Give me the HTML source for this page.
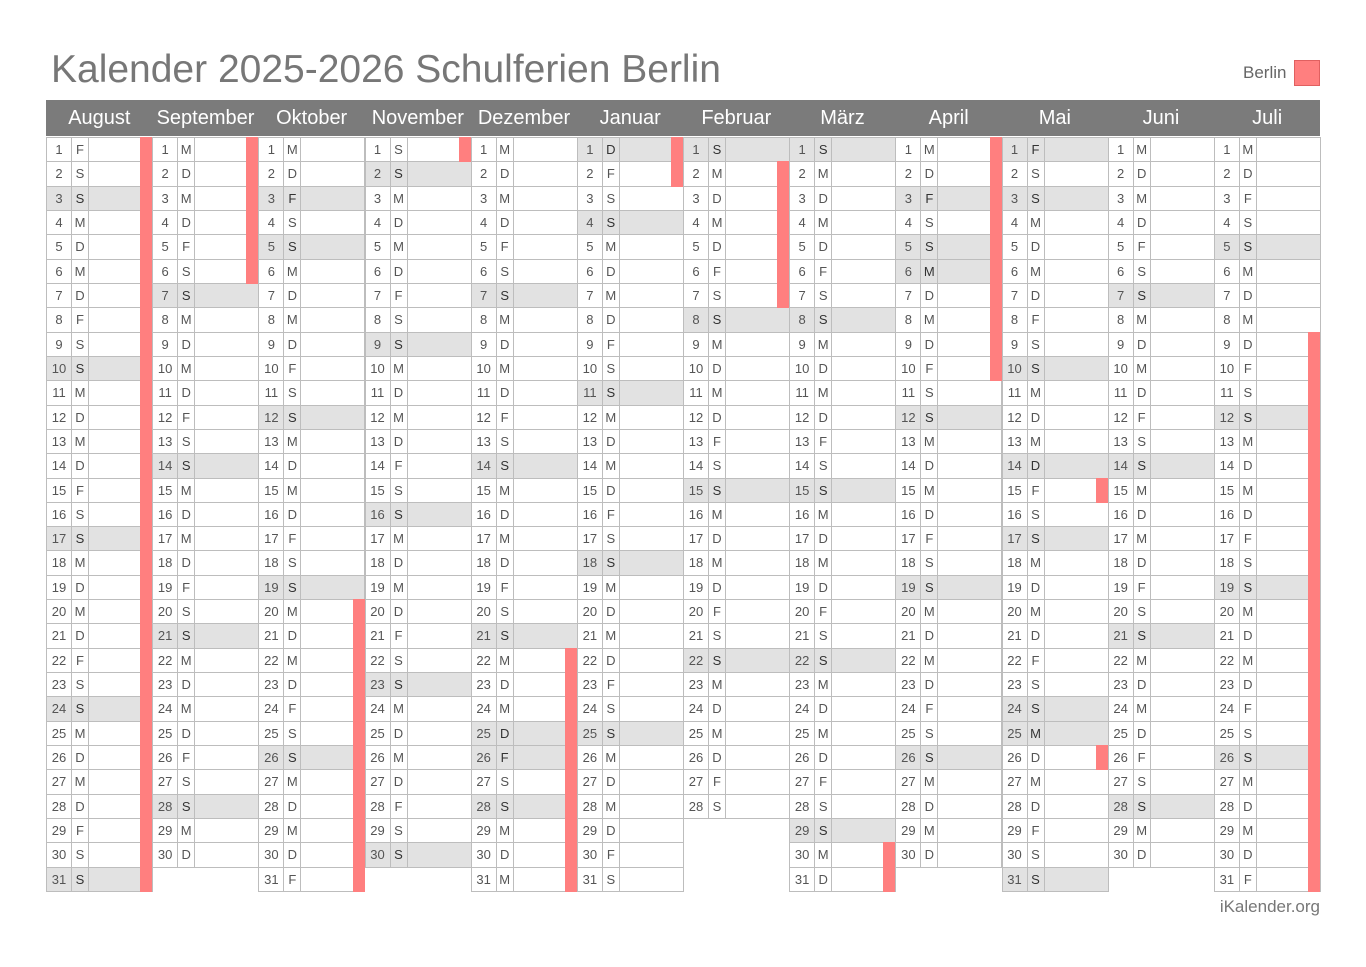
<!DOCTYPE html>
<html><head><meta charset="utf-8">
<style>
body{margin:0;width:1366px;height:967px;background:#fff;font-family:"Liberation Sans",sans-serif;position:relative;overflow:hidden}
.a{position:absolute;box-sizing:border-box}
.hd{background:#7b7b7b;color:#fff;font-size:20px;text-align:center;line-height:36px}
.c{font-size:13px;color:#555;text-align:center;border:1px solid #bdbdbd;margin:0}
</style></head><body>
<div class="a" style="left:51px;top:48px;font-size:39px;color:#777">Kalender 2025-2026 Schulferien Berlin</div>
<div class="a" style="left:1243px;top:63px;font-size:17px;color:#666">Berlin</div>
<div class="a" style="left:1294px;top:60px;width:26px;height:26px;background:#ff7f7f;border:1px solid #e06060"></div>
<div class="a" style="right:46px;top:897px;font-size:17px;color:#777">iKalender.org</div>
<div id="cal"></div>
<script>
const months=["August","September","Oktober","November","Dezember","Januar","Februar","März","April","Mai","Juni","Juli"];
const lengths=[31,30,31,30,31,31,28,31,30,31,30,31];
const startDow=[4,0,2,5,0,3,6,6,2,4,0,2]; // 0=Mon
const holidays=[[],[],[3],[],[25,26],[1],[],[8],[3,5,6],[1,14,25],[],[]];
const vacations=[[[1,31]],[[1,6]],[[20,31]],[[1,1]],[[22,31]],[[1,2]],[[2,7]],[[30,31]],[[1,10]],[[15,15],[26,26]],[],[[9,31]]];
const letters=["M","D","M","D","F","S","S"];
const cal=document.getElementById('cal');
const X0=46,W=(1320-46)/12,Y0=137,RH=(891-137)/31;
function mk(css,txt,name,cls){const d=document.createElement('div');d.className='a '+(cls||'');d.style.cssText=css;if(txt!==undefined)d.textContent=txt;


cal.appendChild(d);return d;}
months.forEach((m,i)=>{
  const x=X0+i*W;
  mk(`left:${x}px;top:100px;width:${W+0.5}px;height:36px`,m,'month-header','hd');
  for(let d=1;d<=lengths[i];d++){
    const y=Y0+(d-1)*RH;const dow=(startDow[i]+d-1)%7;
    const sh=dow===6||holidays[i].includes(d);
    const bg=sh?'#e2e2e2':'#fff';
    const h=RH+1;
    mk(`left:${x}px;top:${y}px;width:${W+1}px;height:${h}px;border:1px solid #bdbdbd;background:${bg}`,undefined,'day-row');
    mk(`left:${x}px;top:${y}px;width:26px;height:${h}px;line-height:${h-2}px;background:${bg}`,String(d),'day-number','c');
    mk(`left:${x+25}px;top:${y}px;width:18px;height:${h}px;line-height:${h-2}px;background:${bg};${sh?'color:#333':''}`,letters[dow],'weekday-letter','c');
  }
  vacations[i].forEach(([s,e])=>{
    mk(`left:${x+W-12}px;top:${Y0+(s-1)*RH}px;width:12px;height:${(e-s+1)*RH+1}px;background:#ff7f7f`,undefined,'vacation-bar');
  });
});
</script>
</body></html>
